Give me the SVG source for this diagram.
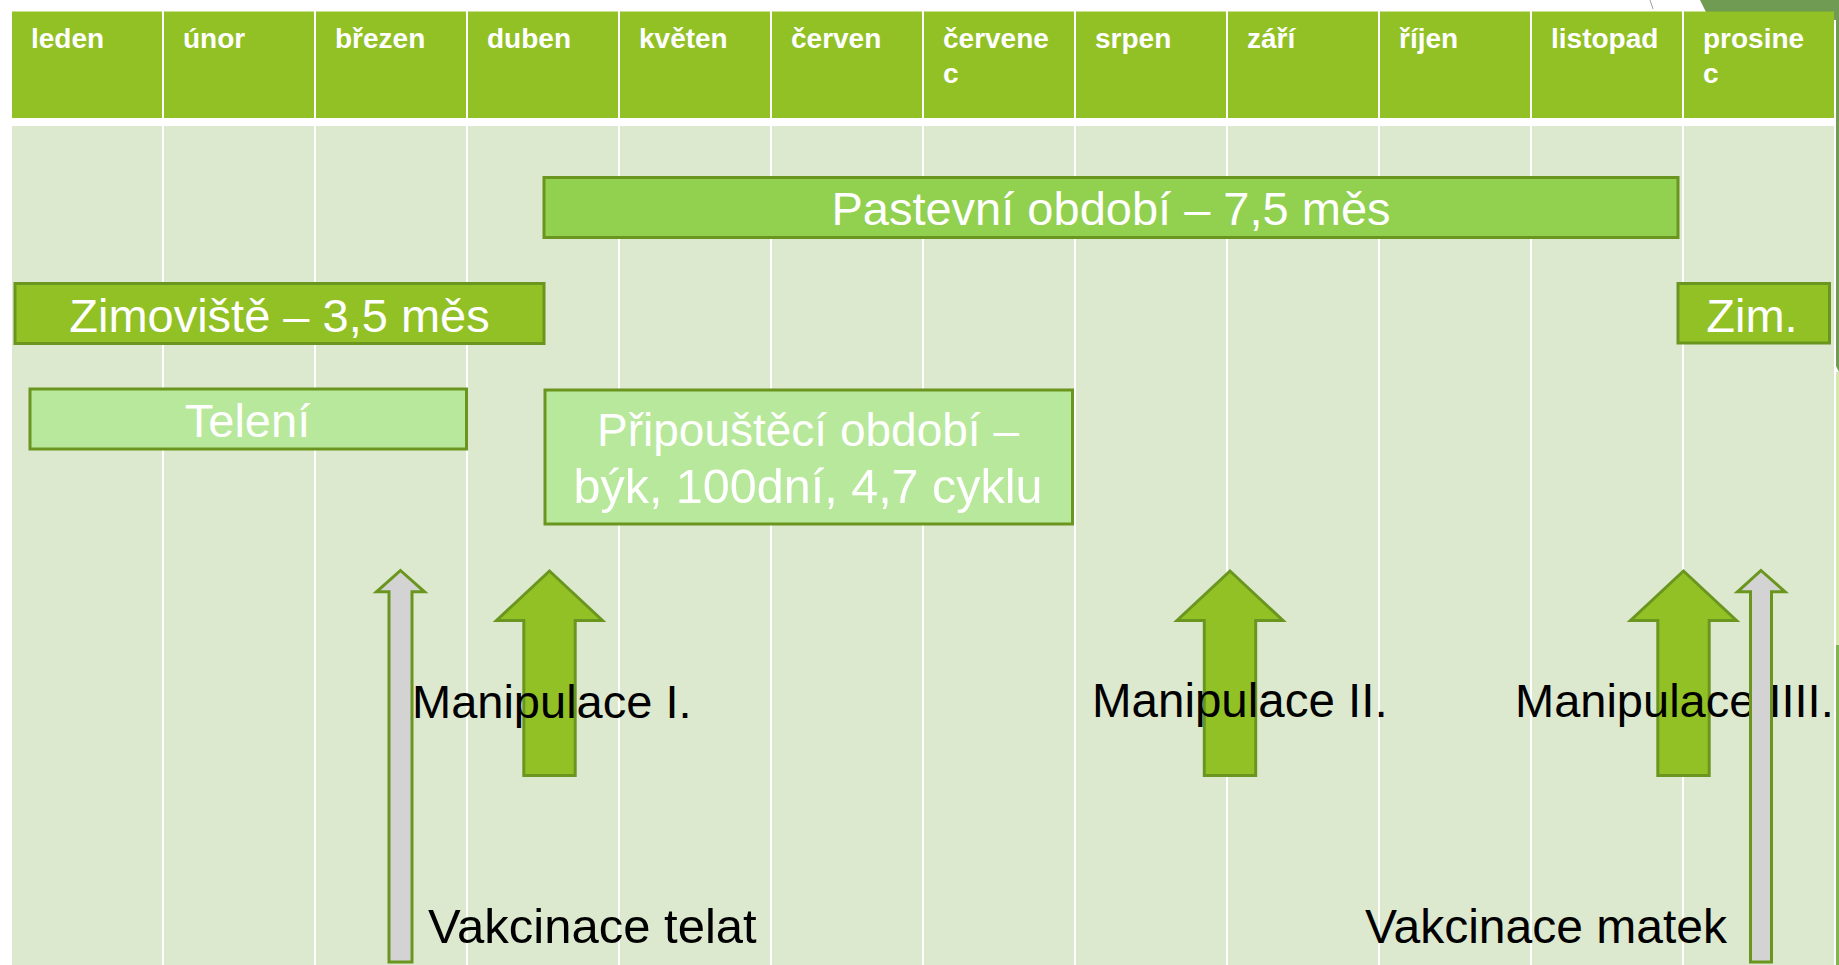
<svg xmlns="http://www.w3.org/2000/svg" width="1839" height="965" viewBox="0 0 1839 965">
<style>
.hd{fill:#92C125}
.bd{fill:#DCE9CF}
.mt{font-family:"Liberation Sans",Arial,sans-serif;font-weight:bold;font-size:28px;fill:#FFFFFF}
.bx{stroke:#6A961F;stroke-width:3}
.bt{font-family:"Liberation Sans",Arial,sans-serif;font-size:47px;fill:#FFFFFF;text-anchor:middle}
.lb{font-family:"Liberation Sans",Arial,sans-serif;font-size:47px;fill:#000000}
.ga{fill:#92C125;stroke:#6A961F;stroke-width:3}
.gy{fill:#D3D3D3;stroke:#6A961F;stroke-width:3}
</style>
<rect x="0" y="0" width="1839" height="965" fill="#FFFFFF"/>
<g id="decor">
<polygon points="1700,0 1839,0 1839,372 1836,366 1836,20 1706,12" fill="#6F9B52"/>
<line x1="1650" y1="0" x2="1653" y2="9" stroke="#A0A0A0" stroke-width="1"/>
<rect x="1836" y="372" width="3" height="273" fill="#D4E8B0"/>
<rect x="1836" y="645" width="3" height="320" fill="#80B650"/>
</g>
<g id="table">
<rect class="hd" x="12" y="11.5" width="150" height="106.5"/>
<rect class="hd" x="164" y="11.5" width="150" height="106.5"/>
<rect class="hd" x="316" y="11.5" width="150" height="106.5"/>
<rect class="hd" x="468" y="11.5" width="150" height="106.5"/>
<rect class="hd" x="620" y="11.5" width="150" height="106.5"/>
<rect class="hd" x="772" y="11.5" width="150" height="106.5"/>
<rect class="hd" x="924" y="11.5" width="150" height="106.5"/>
<rect class="hd" x="1076" y="11.5" width="150" height="106.5"/>
<rect class="hd" x="1228" y="11.5" width="150" height="106.5"/>
<rect class="hd" x="1380" y="11.5" width="150" height="106.5"/>
<rect class="hd" x="1532" y="11.5" width="150" height="106.5"/>
<rect class="hd" x="1684" y="11.5" width="150" height="106.5"/>
<rect class="bd" x="12" y="126" width="150" height="839"/>
<rect class="bd" x="164" y="126" width="150" height="839"/>
<rect class="bd" x="316" y="126" width="150" height="839"/>
<rect class="bd" x="468" y="126" width="150" height="839"/>
<rect class="bd" x="620" y="126" width="150" height="839"/>
<rect class="bd" x="772" y="126" width="150" height="839"/>
<rect class="bd" x="924" y="126" width="150" height="839"/>
<rect class="bd" x="1076" y="126" width="150" height="839"/>
<rect class="bd" x="1228" y="126" width="150" height="839"/>
<rect class="bd" x="1380" y="126" width="150" height="839"/>
<rect class="bd" x="1532" y="126" width="150" height="839"/>
<rect class="bd" x="1684" y="126" width="150" height="839"/>
<text class="mt" x="31" y="48">leden</text>
<text class="mt" x="183" y="48">únor</text>
<text class="mt" x="335" y="48">březen</text>
<text class="mt" x="487" y="48">duben</text>
<text class="mt" x="639" y="48">květen</text>
<text class="mt" x="791" y="48">červen</text>
<text class="mt" x="943" y="48">červene</text>
<text class="mt" x="943" y="83">c</text>
<text class="mt" x="1095" y="48">srpen</text>
<text class="mt" x="1247" y="48">září</text>
<text class="mt" x="1399" y="48">říjen</text>
<text class="mt" x="1551" y="48">listopad</text>
<text class="mt" x="1703" y="48">prosine</text>
<text class="mt" x="1703" y="83">c</text>
</g>
<g id="pastevni">
<rect class="bx" x="544" y="177.5" width="1134" height="60" fill="#92D050"/>
<text class="bt" x="1111" y="225">Pastevní období – 7,5 měs</text>
</g>
<g id="zimoviste">
<rect class="bx" x="15" y="283.5" width="529" height="60" fill="#92C125"/>
<text class="bt" x="279.5" y="331.5">Zimoviště – 3,5 měs</text>
</g>
<g id="zim">
<rect class="bx" x="1678" y="283.5" width="151.5" height="59.5" fill="#92C125"/>
<text class="bt" x="1752" y="331.5">Zim.</text>
</g>
<g id="teleni">
<rect class="bx" x="30" y="389" width="436.5" height="60" fill="#B8E89B"/>
<text class="bt" x="247.5" y="436.5">Telení</text>
</g>
<g id="pripousteci">
<rect class="bx" x="545" y="390" width="527.5" height="134" fill="#B8E89B"/>
<text class="bt" x="808" y="446" style="font-size:46px">Připouštěcí období –</text>
<text class="bt" x="808" y="503" style="font-size:48.5px">býk, 100dní, 4,7 cyklu</text>
</g>
<g id="connectors">
<path id="arrow-man1" class="ga" d="M549.5 571 L602.5 620.5 L575.2 620.5 L575.2 775.5 L523.8 775.5 L523.8 620.5 L496.5 620.5 Z"/>
<path id="arrow-man2" class="ga" d="M1230 571 L1283 620.5 L1255.7 620.5 L1255.7 775.5 L1204.3 775.5 L1204.3 620.5 L1177 620.5 Z"/>
<path id="arrow-man4" class="ga" d="M1683.5 571 L1736.5 620.5 L1709.2 620.5 L1709.2 775.5 L1657.8 775.5 L1657.8 620.5 L1630.5 620.5 Z"/>
</g>
<g id="labels">
<text class="lb" x="412" y="718">Manipulace I.</text>
<text class="lb" x="1092" y="717" style="font-size:47.5px">Manipulace II.</text>
<text class="lb" x="1515" y="717">Manipulace IIII.</text>
<text class="lb" x="428" y="943" style="font-size:49px">Vakcinace telat</text>
<text class="lb" x="1365" y="943" style="font-size:48px">Vakcinace matek</text>
</g>
<g id="vaccination-arrows">
<path id="arrow-vak-telat" class="gy" d="M400.5 570.5 L424.5 591.8 L412 591.8 L412 962 L389 962 L389 591.8 L376.5 591.8 Z"/>
<path id="arrow-vak-matek" class="gy" d="M1761 570.5 L1785 591.8 L1771.5 591.8 L1771.5 962 L1750.5 962 L1750.5 591.8 L1737.5 591.8 Z"/>
</g>
</svg>
